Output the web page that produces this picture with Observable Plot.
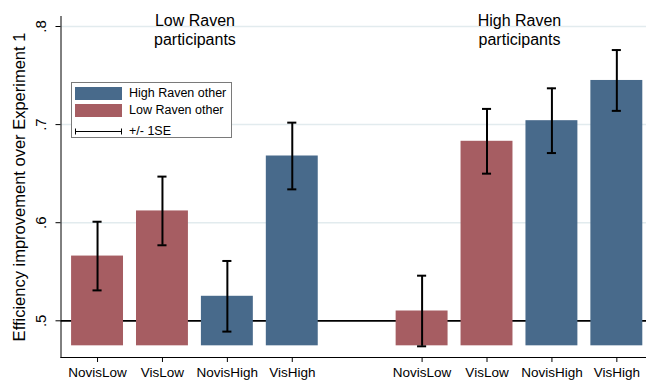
<!DOCTYPE html>
<html>
<head>
<meta charset="utf-8">
<script src="https://cdn.jsdelivr.net/npm/d3@7"></script>
<script src="https://cdn.jsdelivr.net/npm/@observablehq/plot@0.6"></script>
<style>
  html, body { margin: 0; padding: 0; background: #fff; }
  #wrap { position: relative; width: 646px; height: 382px; font-family: "Liberation Sans", Arial, sans-serif; }
  #legend { position: absolute; left: 71px; top: 82px; width: 161px; height: 56px; border: 1px solid #7a7a7a; background: #fff; box-sizing: border-box; font-size: 12.5px; color: #000; }
  .row { position: absolute; left: 3px; height: 14px; display: flex; align-items: center; }
  .sw { width: 47px; height: 13px; margin-right: 7px; }
</style>
</head>
<body>
<div id="wrap"></div>
<script>
// ---- data ----
const groups = ["Low Raven\nparticipants", "High Raven\nparticipants"];
const conditions = ["NovisLow", "VisLow", "NovisHigh", "VisHigh"];
const otherType = ["Low Raven other", "Low Raven other", "High Raven other", "High Raven other"];
const lowRavenMeans = [0.566, 0.612, 0.525, 0.668];
const lowRavenSE = [0.035, 0.035, 0.036, 0.034];
const highRavenMeans = [0.510, 0.683, 0.704, 0.745];
const highRavenSE = [0.036, 0.033, 0.033, 0.031];
const barBase = 0.4745;
const refLine = 0.5;
const yTicks = [0.5, 0.6, 0.7, 0.8];
const gridTicks = [0.6, 0.7, 0.8];
const legendLabels = ["High Raven other", "Low Raven other", "+/- 1SE"];
const yTitle = "Efficiency improvement over Experiment 1";

const colorMap = {"High Raven other": "#486a8b", "Low Raven other": "#a65d62"};

// build table
const rows = [];
[lowRavenMeans, highRavenMeans].forEach((means, g) => {
  const ses = g === 0 ? lowRavenSE : highRavenSE;
  means.forEach((m, i) => {
    rows.push({group: g, cond: conditions[i], pos: g * 5 + i + 1, mean: m, se: ses[i], other: otherType[i]});
  });
});
const tickPos = rows.map(d => d.pos);
const labelAt = new Map(rows.map(d => [d.pos, d.cond]));
const groupCenters = groups.map((name, g) => ({name, pos: g * 5 + 2.5}));
const halfBar = 0.4, halfCap = 0.07;

const chart = Plot.plot({
  width: 646,
  height: 382,
  marginLeft: 60.5,
  marginRight: 0,
  marginTop: 16,
  marginBottom: 25,
  style: {fontFamily: "'Liberation Sans', Arial, sans-serif", background: "#fff", color: "#000"},
  x: {type: "linear", domain: [0.437, 9.457]},
  y: {domain: [0.4626, 0.8102]},
  marks: [
    Plot.ruleY(gridTicks, {stroke: "#e2ebee", strokeWidth: 1.5}),
    Plot.ruleY([refLine], {stroke: "#000", strokeWidth: 1.8}),
    Plot.rectY(rows, {x1: d => d.pos - halfBar, x2: d => d.pos + halfBar, y1: barBase, y2: "mean", fill: d => colorMap[d.other]}),
    Plot.ruleX(rows, {x: "pos", y1: d => d.mean - d.se, y2: d => d.mean + d.se, stroke: "#000", strokeWidth: 2}),
    Plot.ruleY(rows, {y: d => d.mean - d.se, x1: d => d.pos - halfCap, x2: d => d.pos + halfCap, stroke: "#000", strokeWidth: 2}),
    Plot.ruleY(rows, {y: d => d.mean + d.se, x1: d => d.pos - halfCap, x2: d => d.pos + halfCap, stroke: "#000", strokeWidth: 2}),
    Plot.text(groupCenters, {x: "pos", text: "name", frameAnchor: "top", lineAnchor: "top", dy: -4.5, fontSize: 16, lineHeight: 1.2, fill: "#000"}),
    Plot.frame({anchor: "left", stroke: "#000", strokeWidth: 1}),
    Plot.frame({anchor: "bottom", stroke: "#000", strokeWidth: 1}),
    Plot.axisX({ticks: tickPos, tickFormat: d => labelAt.get(d), tickSize: 5, tickPadding: 5, fontSize: 13.5, label: null, stroke: "#000", color: "#000"}),
    Plot.axisY({ticks: yTicks, tickFormat: d => String(d).replace(/^0/, ""), tickSize: 5, tickPadding: 10, tickRotate: -90, fontSize: 15, label: null, color: "#000"}),
    Plot.text([yTitle], {frameAnchor: "left", dx: -41, rotate: -90, textAnchor: "middle", lineAnchor: "middle", fontSize: 16.5, fill: "#000"})
  ]
});

const wrap = document.getElementById("wrap");
wrap.appendChild(chart);

// legend
const legend = document.createElement("div");
legend.id = "legend";
const legendTops = [3, 20, 41];
legendLabels.forEach((lab, i) => {
  const row = document.createElement("div");
  row.className = "row";
  row.style.top = legendTops[i] + "px";
  let sw;
  if (colorMap[lab]) {
    sw = document.createElement("div");
    sw.className = "sw";
    sw.style.background = colorMap[lab];
  } else {
    sw = document.createElementNS("http://www.w3.org/2000/svg", "svg");
    sw.setAttribute("width", 47); sw.setAttribute("height", 13);
    sw.style.marginRight = "7px";
    sw.innerHTML = '<line x1="0.5" x2="46.5" y1="6.5" y2="6.5" stroke="#000" stroke-width="1"/>' +
      '<line x1="0.5" x2="0.5" y1="3.5" y2="9.5" stroke="#000"/>' +
      '<line x1="46.5" x2="46.5" y1="3.5" y2="9.5" stroke="#000"/>';
  }
  const t = document.createElement("span");
  t.textContent = lab;
  row.appendChild(sw);
  row.appendChild(t);
  legend.appendChild(row);
});
wrap.appendChild(legend);
</script>
</body>
</html>
